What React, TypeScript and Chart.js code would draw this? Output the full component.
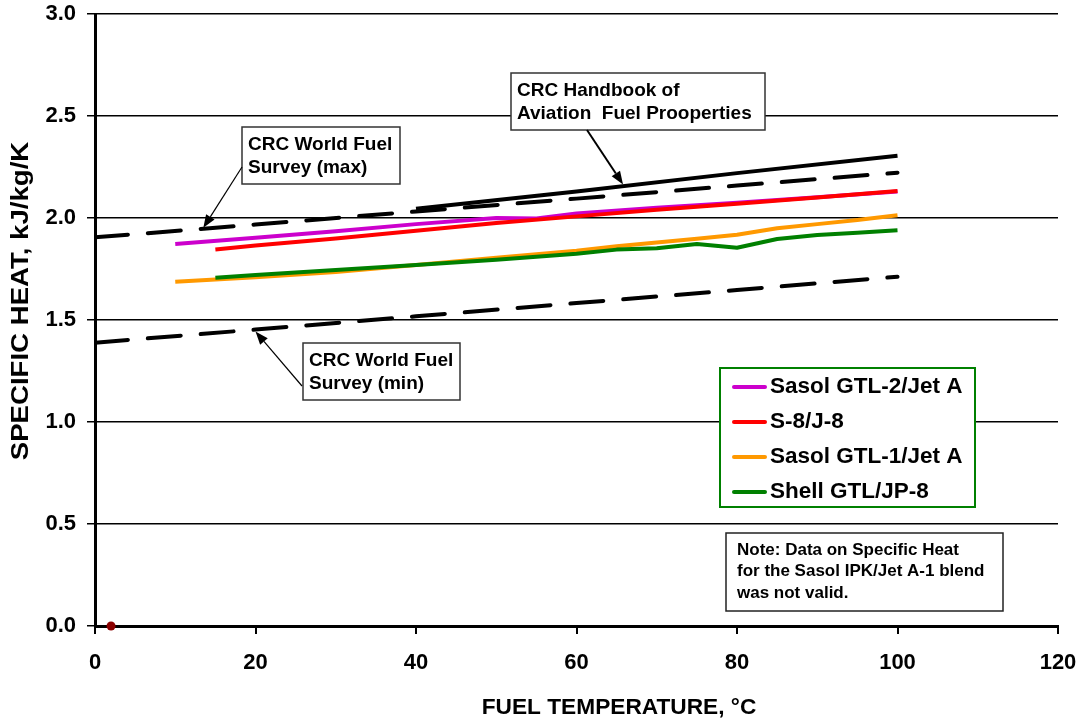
import React, { useEffect, useRef } from "react";
import { Chart, registerables } from "chart.js";

Chart.register(...registerables);

// ---------- data ----------
const gtl2Temps = [10, 20, 30, 40, 50, 55, 60, 70, 80, 90, 100];
const gtl2Values = [1.873, 1.903, 1.935, 1.97, 2.0, 1.998, 2.022, 2.05, 2.075, 2.102, 2.13];

const s8Temps = [15, 20, 30, 40, 50, 60, 70, 80, 90, 100];
const s8Values = [1.846, 1.865, 1.9, 1.937, 1.975, 2.008, 2.04, 2.07, 2.1, 2.132];

const gtl1Temps = [10, 15, 20, 30, 40, 50, 60, 65, 70, 75, 80, 85, 90, 95, 100];
const gtl1Values = [1.687, 1.698, 1.71, 1.735, 1.77, 1.805, 1.84, 1.862, 1.88, 1.898, 1.918, 1.95, 1.97, 1.99, 2.013];

const shellTemps = [15, 20, 30, 40, 50, 55, 60, 65, 70, 75, 80, 85, 90, 95, 100];
const shellValues = [1.707, 1.72, 1.745, 1.77, 1.795, 1.81, 1.825, 1.845, 1.852, 1.873, 1.854, 1.897, 1.917, 1.928, 1.94];

const handbookTemps = [40, 60, 80, 100];
const handbookValues = [2.045, 2.13, 2.22, 2.305];

const surveyMaxTemps = [0, 20, 40, 60, 80, 100];
const surveyMaxValues = [1.905, 1.968, 2.032, 2.095, 2.159, 2.222];

const surveyMinTemps = [0, 20, 40, 60, 80, 100];
const surveyMinValues = [1.389, 1.453, 1.518, 1.583, 1.647, 1.712];

const markerTemps = [2];
const markerValues = [0];

const xTickLabels = ["0", "20", "40", "60", "80", "100", "120"];
const yTickLabels = ["0.0", "0.5", "1.0", "1.5", "2.0", "2.5", "3.0"];

const legendLabels = ["Sasol GTL-2/Jet A", "S-8/J-8", "Sasol GTL-1/Jet A", "Shell GTL/JP-8"];
const noteLines = ["Note: Data on Specific Heat", "for the Sasol IPK/Jet A-1 blend", "was not valid."];

const FONT = '"Liberation Sans", Arial, Helvetica, sans-serif';
const COLORS = {
  gtl2: "#CC00CC",
  s8: "#FF0000",
  gtl1: "#FF9900",
  shell: "#008000",
};

function pts(xs: number[], ys: number[]) {
  return xs.map((x, i) => ({ x, y: ys[i] }));
}

function text(ctx: CanvasRenderingContext2D, s: string, x: number, y: number, size: number, align: CanvasTextAlign = "left") {
  ctx.save();
  ctx.font = `bold ${size}px ${FONT}`;
  ctx.fillStyle = "#000";
  ctx.textAlign = align;
  ctx.textBaseline = "middle";
  ctx.fillText(s, x, y);
  ctx.restore();
}

function arrow(ctx: CanvasRenderingContext2D, x1: number, y1: number, x2: number, y2: number, w: number) {
  const a = Math.atan2(y2 - y1, x2 - x1);
  const hl = 13, hw = 5;
  const c = Math.cos(a), s = Math.sin(a);
  ctx.save();
  ctx.strokeStyle = "#000";
  ctx.fillStyle = "#000";
  ctx.lineWidth = w;
  ctx.beginPath();
  ctx.moveTo(x1, y1);
  ctx.lineTo(x2 - hl * c, y2 - hl * s);
  ctx.stroke();
  ctx.beginPath();
  ctx.moveTo(x2, y2);
  ctx.lineTo(x2 - hl * c + hw * s, y2 - hl * s - hw * c);
  ctx.lineTo(x2 - hl * c - hw * s, y2 - hl * s + hw * c);
  ctx.closePath();
  ctx.fill();
  ctx.restore();
}

function box(ctx: CanvasRenderingContext2D, x: number, y: number, w: number, h: number, color: string, lw: number) {
  ctx.save();
  ctx.fillStyle = "#fff";
  ctx.fillRect(x, y, w, h);
  ctx.strokeStyle = color;
  ctx.lineWidth = lw;
  ctx.strokeRect(x, y, w, h);
  ctx.restore();
}

const overlayPlugin = {
  id: "overlay",
  afterDatasetsDraw(chart: any) {
    const ctx: CanvasRenderingContext2D = chart.ctx;
    const xs = chart.scales.x;
    const ys = chart.scales.y;

    // CRC World Fuel Survey (max)
    box(ctx, 242, 127, 158, 57, "#333", 1.5);
    text(ctx, "CRC World Fuel", 248, 145, 19);
    text(ctx, "Survey (max)", 248, 168, 19);
    arrow(ctx, 242, 167, xs.getPixelForValue(13.5), ys.getPixelForValue(1.947) - 1, 1.2);

    // CRC Handbook
    box(ctx, 511, 73, 254, 57, "#333", 1.5);
    text(ctx, "CRC Handbook of", 517, 91, 19);
    text(ctx, "Aviation  Fuel Prooperties", 517, 114, 19);
    arrow(ctx, 587, 130, xs.getPixelForValue(65.8), ys.getPixelForValue(2.155) - 2, 2);

    // CRC World Fuel Survey (min)
    box(ctx, 303, 343, 157, 57, "#333", 1.5);
    text(ctx, "CRC World Fuel", 309, 361, 19);
    text(ctx, "Survey (min)", 309, 384, 19);
    arrow(ctx, 302, 386, xs.getPixelForValue(20), ys.getPixelForValue(1.453) + 2, 1.2);

    // Legend
    box(ctx, 720, 368, 255, 139, "#008000", 2);
    const legendDs = chart.data.datasets.filter((d: any) => d.inLegend);
    const rowY = [387, 422, 457, 492];
    legendLabels.forEach((lab, i) => {
      const ds = legendDs.find((d: any) => d.label === lab);
      ctx.save();
      ctx.strokeStyle = ds ? ds.borderColor : "#000";
      ctx.lineWidth = 4;
      ctx.lineCap = "round";
      ctx.beginPath();
      ctx.moveTo(734, rowY[i]);
      ctx.lineTo(765, rowY[i]);
      ctx.stroke();
      ctx.restore();
      text(ctx, lab, 770, rowY[i], 22.5);
    });

    // Note
    box(ctx, 726, 533, 277, 78, "#222", 1.5);
    const noteY = [550, 571, 593];
    noteLines.forEach((l, i) => text(ctx, l, 737, noteY[i], 17));
  },
  afterDraw(chart: any) {
    const ctx: CanvasRenderingContext2D = chart.ctx;
    // axis titles
    text(ctx, "FUEL TEMPERATURE, °C", 619, 708, 22.7, "center");
    ctx.save();
    ctx.translate(22, 301);
    ctx.rotate(-Math.PI / 2);
    ctx.scale(1.2, 1);
    ctx.font = `bold 23px ${FONT}`;
    ctx.fillStyle = "#000";
    ctx.textAlign = "center";
    ctx.textBaseline = "middle";
    ctx.fillText("SPECIFIC HEAT, kJ/kg/K", 0, 0);
    ctx.restore();
  },
};

export default function App() {
  const ref = useRef<HTMLCanvasElement | null>(null);

  useEffect(() => {
    if (!ref.current) return;
    const line = (label: string, xs: number[], ys: number[], color: string, order: number, inLegend: boolean, dash?: number[]) => ({
      label,
      data: pts(xs, ys),
      borderColor: color,
      backgroundColor: color,
      borderWidth: 4,
      borderDash: dash || [],
      borderCapStyle: dash ? "round" : "butt",
      borderJoinStyle: "round",
      pointRadius: 0,
      tension: 0,
      order,
      inLegend,
    });

    const chart = new Chart(ref.current, {
      type: "line",
      data: {
        datasets: [
          line("CRC World Fuel Survey (max)", surveyMaxTemps, surveyMaxValues, "#000", 5, false, [33, 20]),
          line("CRC World Fuel Survey (min)", surveyMinTemps, surveyMinValues, "#000", 5, false, [33, 20]),
          line("CRC Handbook of Aviation Fuel Properties", handbookTemps, handbookValues, "#000", 4, false),
          line("Sasol GTL-2/Jet A", gtl2Temps, gtl2Values, COLORS.gtl2, 3, true),
          line("S-8/J-8", s8Temps, s8Values, COLORS.s8, 2, true),
          line("Sasol GTL-1/Jet A", gtl1Temps, gtl1Values, COLORS.gtl1, 3, true),
          line("Shell GTL/JP-8", shellTemps, shellValues, COLORS.shell, 2, true),
          {
            label: "marker",
            data: pts(markerTemps, markerValues),
            showLine: false,
            pointRadius: 4.5,
            pointBackgroundColor: "#8B0000",
            pointBorderWidth: 0,
            clip: false,
            order: 0,
            inLegend: false,
          } as any,
        ] as any,
      },
      options: {
        responsive: false,
        animation: false,
        devicePixelRatio: 1,
        layout: { padding: { top: 14, right: 30, left: 0, bottom: 0 } },
        plugins: {
          legend: { display: false },
          tooltip: { enabled: false },
          title: { display: false },
        },
        scales: {
          x: {
            type: "linear",
            min: 0,
            max: 120,
            ticks: {
              stepSize: 20,
              autoSkip: false,
              maxRotation: 0,
              padding: 16,
              color: "#000",
              font: { family: FONT, size: 22, weight: "bold" },
              callback: (_v: any, i: number) => xTickLabels[i],
            },
            grid: { drawOnChartArea: false, drawTicks: true, tickLength: 8, color: "#000", lineWidth: 2 },
            border: { display: true, color: "#000", width: 3 },
            afterFit: (s: any) => {
              s.height = 99;
              s.paddingLeft = 0;
              s.paddingRight = 0;
            },
          },
          y: {
            type: "linear",
            min: 0,
            max: 3,
            ticks: {
              stepSize: 0.5,
              padding: 11,
              color: "#000",
              font: { family: FONT, size: 22, weight: "bold" },
              callback: (_v: any, i: number) => yTickLabels[i],
            },
            grid: { drawOnChartArea: true, drawTicks: true, tickLength: 8, color: "#000", lineWidth: 1.5 },
            border: { display: true, color: "#000", width: 3 },
            afterFit: (s: any) => {
              s.width = 95;
              s.paddingTop = 0;
              s.paddingBottom = 0;
            },
          },
        },
      } as any,
      plugins: [overlayPlugin],
    });
    return () => chart.destroy();
  }, []);

  return (
    <div style={{ position: "absolute", left: 0, top: 0, width: 1088, height: 725, background: "#fff" }}>
      <canvas ref={ref} width={1088} height={725} style={{ display: "block" }} />
    </div>
  );
}
